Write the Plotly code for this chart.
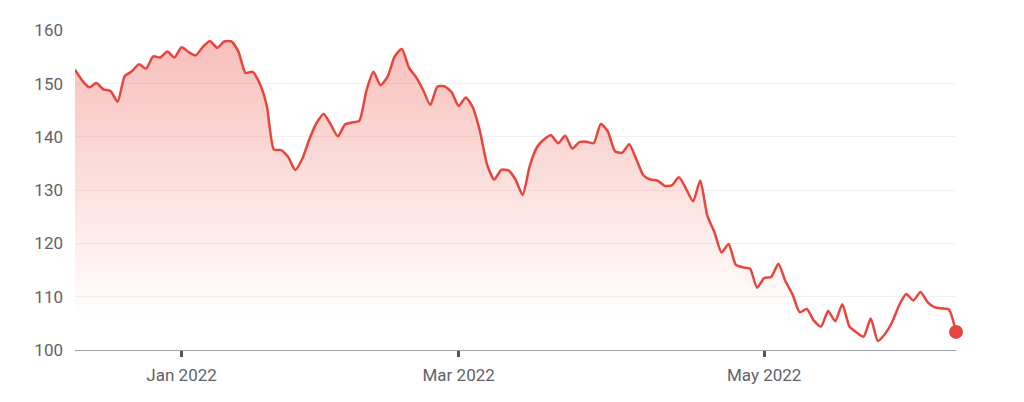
import pandas as pd
import plotly.graph_objects as go

# Trading days (weekends and US market holidays removed)
holidays = ["2021-12-24", "2022-01-17", "2022-02-21", "2022-04-15", "2022-05-30"]
days = [d.strftime("%Y-%m-%d") for d in pd.bdate_range("2021-12-10", "2022-06-09")
        if d.strftime("%Y-%m-%d") not in holidays]

prices = [
    152.6, 150.6, 149.3, 150.1, 148.9, 148.6, 146.6, 151.4, 152.3, 153.6,
    152.8, 155.1, 154.9, 156.0, 154.9, 156.8, 155.9, 155.3, 156.9, 158.0,
    156.7, 157.9, 157.9, 156.0, 152.0, 152.2, 150.0, 145.8, 137.6, 137.5,
    136.2, 133.8, 135.9, 139.6, 142.6, 144.3, 142.3, 140.1, 142.3, 142.7,
    143.0, 148.6, 152.2, 149.7, 151.3, 155.1, 156.5, 153.0, 151.2, 148.8,
    146.0, 149.4, 149.5, 148.4, 145.8, 147.4, 145.5, 141.0, 134.8, 132.0,
    133.8, 133.7, 132.0, 129.1, 134.5, 138.0, 139.5, 140.3, 138.8, 140.2,
    137.8, 139.0, 139.1, 138.8, 142.4, 141.0, 137.3, 137.0, 138.6, 135.8,
    132.8, 132.0, 131.8, 130.8, 130.9, 132.4, 130.3, 127.9, 131.8, 125.2,
    122.1, 118.3, 119.9, 116.0, 115.5, 115.3, 111.7, 113.5, 113.7, 116.2,
    112.9, 110.4, 107.1, 107.7, 105.5, 104.4, 107.3, 105.4, 108.6, 104.4,
    103.3, 102.5, 105.9, 101.7, 103.0, 105.2, 108.4, 110.5, 109.3, 110.9,
    109.0, 108.0, 107.8, 107.6, 103.4,
]

tick_dates = ["2022-01-03", "2022-03-01", "2022-05-02"]
tick_labels = ["Jan 2022", "Mar 2022", "May 2022"]
y_ticks = [100, 110, 120, 130, 140, 150, 160]

RED = "#e8453c"
GRAY = "#5f6368"

fig = go.Figure()
fig.add_trace(go.Scatter(
    x=days, y=prices, mode="lines",
    line=dict(color=RED, width=2.5, shape="spline", smoothing=0.6),
    fill="tozeroy",
    fillgradient=dict(type="vertical", start=107, stop=158,
                      colorscale=[[0, "rgba(234,67,53,0)"], [1, "rgba(234,67,53,0.34)"]]),
    hoverinfo="skip", showlegend=False,
))
fig.add_trace(go.Scatter(
    x=[days[-1]], y=[prices[-1]], mode="markers",
    marker=dict(color=RED, size=14), cliponaxis=False,
    hoverinfo="skip", showlegend=False,
))

# the page body adds an 8px offset, so margins are shifted accordingly
fig.update_layout(
    width=1024, height=402,
    margin=dict(l=67, r=76, t=16, b=60),
    paper_bgcolor="white", plot_bgcolor="white",
    font=dict(family="Roboto, Arial, sans-serif", size=17, color=GRAY),
    xaxis=dict(
        type="category", range=[0, len(days) - 1],
        tickmode="array", tickvals=tick_dates, ticktext=tick_labels,
        showgrid=False, showline=True, linecolor="#9aa0a6", linewidth=1,
        ticks="outside", ticklen=6, tickwidth=2.5, tickcolor="#555555",
        ticklabelstandoff=4,
        tickfont=dict(size=17, color=GRAY), zeroline=False,
    ),
    yaxis=dict(
        range=[100, 160.05], tickmode="array", tickvals=y_ticks,
        showgrid=True, gridcolor="#f1f1f1", gridwidth=1,
        zeroline=False, showline=False, ticks="",
        ticklabelstandoff=11,
        tickfont=dict(size=17, color=GRAY),
    ),
)

fig.write_html("out.html")
